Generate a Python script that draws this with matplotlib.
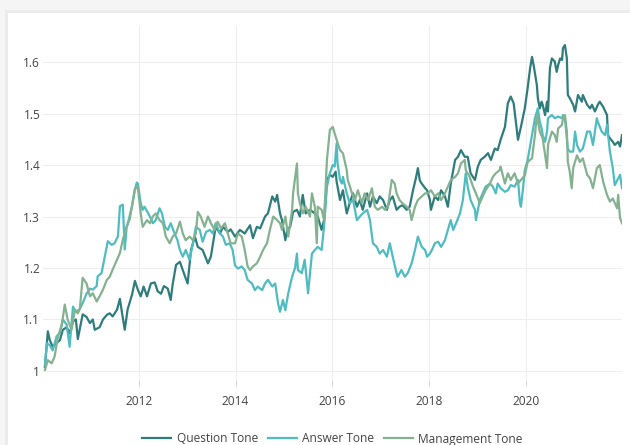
import matplotlib
matplotlib.use("Agg")
import matplotlib.pyplot as plt
from matplotlib.patches import Rectangle
from matplotlib.lines import Line2D

# ---------------- data (decimal years, tone index) ----------------
q_years = [2010.06, 2010.12, 2010.16, 2010.22, 2010.30, 2010.37, 2010.43, 2010.51, 2010.57, 2010.64,
           2010.70, 2010.74, 2010.84, 2010.92, 2010.99, 2011.05, 2011.09, 2011.19, 2011.26, 2011.34,
           2011.40, 2011.46, 2011.55, 2011.61, 2011.65, 2011.71, 2011.77, 2011.86, 2011.92, 2011.98,
           2012.04, 2012.10, 2012.17, 2012.25, 2012.33, 2012.39, 2012.46, 2012.52, 2012.60, 2012.66,
           2012.70, 2012.77, 2012.85, 2012.91, 2012.97, 2013.01, 2013.08, 2013.16, 2013.22, 2013.32,
           2013.43, 2013.49, 2013.59, 2013.68, 2013.74, 2013.84, 2013.90, 2013.99, 2014.09, 2014.19,
           2014.30, 2014.36, 2014.44, 2014.51, 2014.61, 2014.67, 2014.76, 2014.82, 2014.86, 2014.92,
           2014.96, 2015.03, 2015.07, 2015.13, 2015.19, 2015.27, 2015.33, 2015.39, 2015.45, 2015.54,
           2015.64, 2015.70, 2015.78, 2015.83, 2015.89, 2015.95, 2016.01, 2016.07, 2016.09, 2016.16,
           2016.22, 2016.30, 2016.36, 2016.43, 2016.51, 2016.57, 2016.63, 2016.72, 2016.78, 2016.84,
           2016.92, 2016.98, 2017.05, 2017.13, 2017.19, 2017.25, 2017.33, 2017.39, 2017.45, 2017.54,
           2017.60, 2017.67, 2017.73, 2017.77, 2017.81, 2017.85, 2017.92, 2017.96, 2018.02, 2018.04,
           2018.12, 2018.19, 2018.25, 2018.33, 2018.39, 2018.45, 2018.54, 2018.60, 2018.66, 2018.74,
           2018.80, 2018.86, 2018.95, 2019.01, 2019.07, 2019.15, 2019.22, 2019.28, 2019.36, 2019.42,
           2019.48, 2019.57, 2019.63, 2019.69, 2019.75, 2019.84, 2019.90, 2019.98, 2020.04, 2020.09,
           2020.13, 2020.17, 2020.23, 2020.25, 2020.29, 2020.33, 2020.35, 2020.40, 2020.44, 2020.46,
           2020.50, 2020.54, 2020.60, 2020.64, 2020.67, 2020.71, 2020.75, 2020.77, 2020.81, 2020.85,
           2020.87, 2020.91, 2020.98, 2021.02, 2021.08, 2021.16, 2021.18, 2021.27, 2021.33, 2021.37,
           2021.43, 2021.49, 2021.53, 2021.60, 2021.68, 2021.70, 2021.74, 2021.80, 2021.84, 2021.91,
           2021.95, 2021.99]
question_tone = [1.008, 1.077, 1.060, 1.047, 1.054, 1.060, 1.080, 1.085, 1.073, 1.096,
                 1.100, 1.062, 1.110, 1.105, 1.093, 1.100, 1.080, 1.085, 1.100, 1.109,
                 1.112, 1.106, 1.119, 1.140, 1.115, 1.080, 1.120, 1.148, 1.175, 1.158,
                 1.145, 1.164, 1.145, 1.170, 1.172, 1.155, 1.150, 1.165, 1.160, 1.138,
                 1.168, 1.206, 1.212, 1.196, 1.180, 1.170, 1.235, 1.261, 1.241, 1.235,
                 1.209, 1.222, 1.280, 1.267, 1.280, 1.270, 1.275, 1.261, 1.274, 1.267,
                 1.283, 1.258, 1.280, 1.277, 1.300, 1.306, 1.339, 1.329, 1.342, 1.306,
                 1.293, 1.254, 1.274, 1.280, 1.309, 1.313, 1.300, 1.342, 1.306, 1.313,
                 1.306, 1.300, 1.274, 1.293, 1.371, 1.381, 1.377, 1.387, 1.368, 1.332,
                 1.351, 1.306, 1.326, 1.345, 1.319, 1.332, 1.313, 1.345, 1.319, 1.339,
                 1.326, 1.339, 1.332, 1.313, 1.332, 1.339, 1.313, 1.319, 1.322, 1.313,
                 1.319, 1.351, 1.375, 1.394, 1.370, 1.364, 1.355, 1.351, 1.332, 1.313,
                 1.339, 1.332, 1.351, 1.339, 1.319, 1.364, 1.410, 1.416, 1.429, 1.416,
                 1.416, 1.384, 1.371, 1.397, 1.410, 1.416, 1.423, 1.410, 1.432, 1.429,
                 1.449, 1.474, 1.520, 1.533, 1.520, 1.449, 1.474, 1.510, 1.550, 1.588,
                 1.610, 1.590, 1.555, 1.530, 1.510, 1.523, 1.517, 1.497, 1.523, 1.504,
                 1.588, 1.607, 1.601, 1.581, 1.594, 1.607, 1.604, 1.627, 1.633, 1.607,
                 1.536, 1.530, 1.517, 1.504, 1.536, 1.523, 1.536, 1.517, 1.510, 1.517,
                 1.504, 1.517, 1.523, 1.513, 1.497, 1.458, 1.452, 1.445, 1.439, 1.445,
                 1.436, 1.458]

a_years = [2010.06, 2010.10, 2010.16, 2010.22, 2010.30, 2010.37, 2010.43, 2010.51, 2010.57, 2010.64,
           2010.70, 2010.78, 2010.84, 2010.92, 2010.99, 2011.05, 2011.13, 2011.15, 2011.23, 2011.30,
           2011.36, 2011.44, 2011.50, 2011.57, 2011.61, 2011.67, 2011.71, 2011.75, 2011.77, 2011.86,
           2011.92, 2011.96, 2011.98, 2012.04, 2012.08, 2012.12, 2012.23, 2012.29, 2012.35, 2012.43,
           2012.48, 2012.54, 2012.60, 2012.66, 2012.74, 2012.80, 2012.85, 2012.91, 2012.97, 2013.05,
           2013.12, 2013.18, 2013.26, 2013.32, 2013.39, 2013.47, 2013.53, 2013.59, 2013.68, 2013.74,
           2013.80, 2013.88, 2013.94, 2013.99, 2014.05, 2014.13, 2014.19, 2014.25, 2014.34, 2014.40,
           2014.46, 2014.55, 2014.61, 2014.67, 2014.76, 2014.82, 2014.88, 2014.92, 2014.98, 2015.03,
           2015.09, 2015.17, 2015.23, 2015.27, 2015.29, 2015.37, 2015.43, 2015.50, 2015.58, 2015.64,
           2015.70, 2015.78, 2015.83, 2015.89, 2015.95, 2016.01, 2016.05, 2016.09, 2016.11, 2016.16,
           2016.20, 2016.22, 2016.30, 2016.36, 2016.43, 2016.51, 2016.57, 2016.63, 2016.72, 2016.78,
           2016.84, 2016.92, 2016.98, 2017.05, 2017.13, 2017.19, 2017.25, 2017.33, 2017.35, 2017.43,
           2017.50, 2017.56, 2017.64, 2017.71, 2017.77, 2017.85, 2017.92, 2017.96, 2018.02, 2018.06,
           2018.12, 2018.19, 2018.25, 2018.33, 2018.39, 2018.45, 2018.50, 2018.56, 2018.64, 2018.70,
           2018.76, 2018.80, 2018.86, 2018.95, 2018.97, 2019.05, 2019.11, 2019.17, 2019.26, 2019.32,
           2019.38, 2019.42, 2019.48, 2019.57, 2019.63, 2019.69, 2019.77, 2019.84, 2019.88, 2019.90,
           2019.94, 2019.98, 2020.04, 2020.13, 2020.19, 2020.25, 2020.29, 2020.33, 2020.35, 2020.40,
           2020.44, 2020.46, 2020.54, 2020.60, 2020.67, 2020.75, 2020.77, 2020.81, 2020.87, 2020.91,
           2020.98, 2021.02, 2021.06, 2021.12, 2021.18, 2021.27, 2021.33, 2021.39, 2021.47, 2021.49,
           2021.57, 2021.64, 2021.68, 2021.74, 2021.80, 2021.84, 2021.91, 2021.95, 2021.99]
answer_tone = [1.012, 1.054, 1.050, 1.040, 1.067, 1.074, 1.100, 1.090, 1.047, 1.125,
               1.115, 1.120, 1.132, 1.150, 1.160, 1.158, 1.165, 1.184, 1.190, 1.223,
               1.252, 1.245, 1.248, 1.262, 1.320, 1.323, 1.236, 1.280, 1.285, 1.320,
               1.353, 1.366, 1.364, 1.326, 1.313, 1.319, 1.300, 1.287, 1.293, 1.316,
               1.306, 1.280, 1.274, 1.287, 1.267, 1.254, 1.235, 1.222, 1.235, 1.216,
               1.248, 1.280, 1.274, 1.251, 1.270, 1.274, 1.267, 1.287, 1.267, 1.261,
               1.245, 1.248, 1.235, 1.205, 1.199, 1.203, 1.196, 1.177, 1.170, 1.157,
               1.164, 1.157, 1.170, 1.177, 1.164, 1.170, 1.131, 1.115, 1.138, 1.118,
               1.151, 1.183, 1.200, 1.228, 1.196, 1.190, 1.216, 1.151, 1.228, 1.235,
               1.241, 1.235, 1.280, 1.358, 1.384, 1.400, 1.397, 1.442, 1.403, 1.371,
               1.364, 1.377, 1.345, 1.326, 1.332, 1.293, 1.300, 1.306, 1.313, 1.293,
               1.248, 1.241, 1.228, 1.235, 1.222, 1.248, 1.222, 1.190, 1.183, 1.196,
               1.183, 1.190, 1.209, 1.235, 1.261, 1.241, 1.235, 1.222, 1.228, 1.235,
               1.248, 1.251, 1.241, 1.254, 1.274, 1.293, 1.274, 1.287, 1.306, 1.332,
               1.384, 1.358, 1.332, 1.313, 1.293, 1.332, 1.345, 1.358, 1.364, 1.358,
               1.345, 1.364, 1.355, 1.348, 1.351, 1.361, 1.358, 1.371, 1.326, 1.319,
               1.351, 1.390, 1.410, 1.458, 1.491, 1.510, 1.484, 1.471, 1.458, 1.445,
               1.465, 1.491, 1.497, 1.491, 1.494, 1.491, 1.497, 1.491, 1.432, 1.426,
               1.426, 1.465, 1.439, 1.426, 1.432, 1.465, 1.465, 1.439, 1.491, 1.484,
               1.465, 1.458, 1.478, 1.426, 1.394, 1.361, 1.374, 1.381, 1.355]

m_years = [2010.06, 2010.12, 2010.20, 2010.26, 2010.33, 2010.41, 2010.47, 2010.53, 2010.61, 2010.68,
           2010.74, 2010.78, 2010.84, 2010.92, 2010.99, 2011.05, 2011.13, 2011.19, 2011.26, 2011.34,
           2011.40, 2011.46, 2011.55, 2011.61, 2011.67, 2011.75, 2011.81, 2011.86, 2011.92, 2011.98,
           2012.04, 2012.08, 2012.17, 2012.23, 2012.29, 2012.35, 2012.43, 2012.50, 2012.56, 2012.64,
           2012.70, 2012.77, 2012.85, 2012.91, 2012.97, 2013.05, 2013.12, 2013.18, 2013.22, 2013.28,
           2013.36, 2013.43, 2013.49, 2013.57, 2013.63, 2013.70, 2013.78, 2013.84, 2013.90, 2013.99,
           2014.05, 2014.13, 2014.19, 2014.25, 2014.30, 2014.36, 2014.44, 2014.51, 2014.57, 2014.65,
           2014.71, 2014.78, 2014.86, 2014.92, 2014.96, 2015.03, 2015.09, 2015.17, 2015.19, 2015.27,
           2015.29, 2015.33, 2015.39, 2015.45, 2015.54, 2015.58, 2015.64, 2015.68, 2015.70, 2015.78,
           2015.83, 2015.89, 2015.95, 2016.01, 2016.09, 2016.16, 2016.22, 2016.30, 2016.32, 2016.41,
           2016.47, 2016.53, 2016.61, 2016.67, 2016.74, 2016.82, 2016.88, 2016.94, 2017.03, 2017.09,
           2017.15, 2017.23, 2017.29, 2017.33, 2017.39, 2017.45, 2017.54, 2017.60, 2017.64, 2017.71,
           2017.77, 2017.85, 2017.92, 2017.98, 2018.04, 2018.12, 2018.19, 2018.25, 2018.33, 2018.39,
           2018.45, 2018.54, 2018.60, 2018.66, 2018.74, 2018.76, 2018.84, 2018.91, 2018.97, 2019.05,
           2019.11, 2019.17, 2019.26, 2019.32, 2019.38, 2019.46, 2019.48, 2019.57, 2019.63, 2019.69,
           2019.77, 2019.84, 2019.90, 2019.98, 2020.04, 2020.13, 2020.19, 2020.23, 2020.29, 2020.35,
           2020.40, 2020.44, 2020.46, 2020.54, 2020.60, 2020.64, 2020.67, 2020.75, 2020.77, 2020.81,
           2020.85, 2020.87, 2020.91, 2020.95, 2020.98, 2021.06, 2021.12, 2021.18, 2021.27, 2021.33,
           2021.39, 2021.47, 2021.53, 2021.60, 2021.68, 2021.74, 2021.80, 2021.89, 2021.91, 2021.95,
           2021.99]
management_tone = [1.002, 1.021, 1.015, 1.028, 1.067, 1.090, 1.129, 1.100, 1.080, 1.119,
                   1.112, 1.120, 1.181, 1.170, 1.145, 1.151, 1.135, 1.145, 1.158, 1.177,
                   1.183, 1.197, 1.216, 1.229, 1.255, 1.281, 1.294, 1.320, 1.353, 1.358,
                   1.306, 1.280, 1.293, 1.287, 1.300, 1.306, 1.293, 1.287, 1.261, 1.248,
                   1.261, 1.267, 1.290, 1.267, 1.254, 1.261, 1.254, 1.267, 1.309, 1.300,
                   1.280, 1.300, 1.287, 1.274, 1.290, 1.277, 1.287, 1.267, 1.248, 1.248,
                   1.267, 1.261, 1.235, 1.203, 1.196, 1.203, 1.209, 1.222, 1.235, 1.248,
                   1.274, 1.300, 1.293, 1.287, 1.274, 1.300, 1.261, 1.313, 1.345, 1.403,
                   1.345, 1.326, 1.306, 1.319, 1.300, 1.345, 1.319, 1.248, 1.319, 1.313,
                   1.293, 1.410, 1.468, 1.474, 1.449, 1.429, 1.423, 1.390, 1.371, 1.345,
                   1.332, 1.351, 1.326, 1.345, 1.332, 1.355, 1.319, 1.313, 1.319, 1.313,
                   1.319, 1.371, 1.364, 1.345, 1.332, 1.326, 1.319, 1.313, 1.293, 1.319,
                   1.332, 1.339, 1.345, 1.345, 1.351, 1.339, 1.345, 1.332, 1.345, 1.358,
                   1.371, 1.377, 1.384, 1.403, 1.410, 1.390, 1.377, 1.358, 1.345, 1.326,
                   1.339, 1.351, 1.364, 1.377, 1.384, 1.390, 1.397, 1.364, 1.384, 1.371,
                   1.384, 1.364, 1.371, 1.380, 1.406, 1.413, 1.458, 1.497, 1.465, 1.452,
                   1.419, 1.394, 1.439, 1.465, 1.458, 1.445, 1.471, 1.478, 1.491, 1.497,
                   1.465, 1.406, 1.387, 1.355, 1.394, 1.419, 1.406, 1.413, 1.381, 1.374,
                   1.355, 1.394, 1.400, 1.368, 1.342, 1.329, 1.335, 1.316, 1.342, 1.297,
                   1.287]

series_names = ["Question Tone", "Answer Tone", "Management Tone"]
series_colors = ["#2e7d7c", "#4fbcc1", "#84b290"]
x_ticks = [2012, 2014, 2016, 2018, 2020]
y_ticks = [1.0, 1.1, 1.2, 1.3, 1.4, 1.5, 1.6]
y_tick_labels = ["1", "1.1", "1.2", "1.3", "1.4", "1.5", "1.6"]

# ---------------- figure ----------------
W, H = 630, 445
fig = plt.figure(figsize=(W / 100, H / 100), dpi=100, facecolor="white")

# card shadow (top and left edges)
fig.patches.append(Rectangle((0, 1 - 13 / H), 1, 13 / H, transform=fig.transFigure,
                             facecolor="#f5f5f5", edgecolor="none", zorder=0))
fig.patches.append(Rectangle((0, 0), 8 / W, 1, transform=fig.transFigure,
                             facecolor="#f5f5f5", edgecolor="none", zorder=0))
fig.patches.append(Rectangle((5 / W, 1 - 13 / H), 1, 3 / H, transform=fig.transFigure,
                             facecolor="#ebebeb", edgecolor="none", zorder=0))
fig.patches.append(Rectangle((5 / W, 0), 3 / W, 1 - 10 / H, transform=fig.transFigure,
                             facecolor="#ebebeb", edgecolor="none", zorder=0))

left, right, top, bottom = 43, 622, 26, 380
ax = fig.add_axes([left / W, 1 - bottom / H, (right - left) / W, (bottom - top) / H])
ax.set_facecolor("none")

ax.plot(q_years, question_tone, color=series_colors[0], lw=1.6, zorder=3, solid_joinstyle="round")
ax.plot(a_years, answer_tone, color=series_colors[1], lw=1.6, zorder=4, solid_joinstyle="round")
ax.plot(m_years, management_tone, color=series_colors[2], lw=1.6, zorder=5, solid_joinstyle="round")

ax.set_xlim(2010.02, 2021.99)
ax.set_ylim(0.9825, 1.670)

for s in ax.spines.values():
    s.set_visible(False)

ax.set_xticks(x_ticks)
ax.set_xticklabels([str(t) for t in x_ticks])
ax.set_yticks(y_ticks)
ax.set_yticklabels(y_tick_labels)
ax.grid(True, color="#eeeeee", lw=0.75, zorder=0)
ax.set_axisbelow(True)

ax.tick_params(axis="x", length=4, width=0.75, color="#d6d6d6", pad=7, labelcolor="#444444")
ax.tick_params(axis="y", length=0, pad=2, labelcolor="#444444")
for lab in ax.get_xticklabels() + ax.get_yticklabels():
    lab.set_fontfamily("Open Sans")
    lab.set_fontsize(8.6)

handles = [Line2D([0], [0], color=c, lw=1.6) for c in series_colors]
fig.legend(handles, series_names, loc="center", bbox_to_anchor=((left + right) / 2 / W, 1 - 439 / H),
           ncol=3, frameon=False, handlelength=2.4, handletextpad=0.45, columnspacing=0.85,
           prop=dict(family="Open Sans", size=8.6), labelcolor="#444444")

fig.savefig("out.png", dpi=100, facecolor="white")
